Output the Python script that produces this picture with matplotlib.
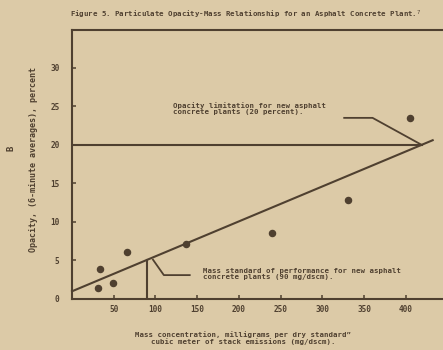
import matplotlib
matplotlib.use("Agg")
import matplotlib.pyplot as plt
import numpy as np

# Data
mass_conc = [33, 31, 49, 66, 136, 240, 330, 405]       # mg/dscm
opacity = [3.9, 1.4, 2.1, 6.1, 7.1, 8.6, 12.9, 23.5]    # percent
fit_x = [0, 432]
fit_y = [1.0, 20.6]
opacity_limit = 20
mass_standard = 90
x_ticks = [50, 100, 150, 200, 250, 300, 350, 400]
y_ticks = [0, 5, 10, 15, 20, 25, 30]

paper = "#dccaa7"
ink = "#4f4030"
font = dict(family="DejaVu Sans Mono", weight="bold", color=ink)

fig = plt.figure(figsize=(4.43, 3.5), dpi=100, facecolor=paper)
ax = fig.add_axes([72/443, 1-299/350, 1-72/443+0.005, (299-30)/350])
ax.set_facecolor(paper)
ax.set_xlim(0, 447)
ax.set_ylim(0, 34.9)
for s in ["left", "bottom", "top"]:
    ax.spines[s].set_color(ink)
    ax.spines[s].set_linewidth(1.5)
ax.spines["right"].set_visible(False)

ax.set_xticks(x_ticks)
ax.set_yticks(y_ticks)
ax.tick_params(direction="in", length=3, width=1.1, color=ink, labelsize=5.6, pad=4)
ax.tick_params(axis="y", pad=9)
for lab in ax.get_xticklabels() + ax.get_yticklabels():
    lab.set_family("DejaVu Sans Mono"); lab.set_weight("bold"); lab.set_color(ink)

# regression line
ax.plot(fit_x, fit_y, color=ink, lw=1.5, clip_on=False)
# intersection of fit with opacity limit
slope = (fit_y[1]-fit_y[0])/(fit_x[1]-fit_x[0])
x_int = (opacity_limit - fit_y[0]) / slope
ax.plot([0, x_int], [opacity_limit, opacity_limit], color=ink, lw=1.5)
# mass standard vertical
y_ms = fit_y[0] + slope*mass_standard
ax.plot([mass_standard, mass_standard], [0, y_ms], color=ink, lw=1.5)

ax.plot(mass_conc, opacity, "o", color=ink, ms=4.4, clip_on=False)

# annotations
ax.text(121, 24.7, "Opacity limitation for new asphalt\nconcrete plants (20 percent).",
        fontsize=5.3, va="center", ha="left", linespacing=1.0, **font)
ax.plot([326, 360, x_int], [23.5, 23.5, opacity_limit], color=ink, lw=1.3)
ax.text(157, 3.2, "Mass standard of performance for new asphalt\nconcrete plants (90 mg/dscm).",
        fontsize=5.3, va="center", ha="left", linespacing=1.0, **font)
ax.plot([97, 110, 141], [5.1, 3.1, 3.1], color=ink, lw=1.3)

fig.text(70/443, 1-15/350,
         "Figure 5. Particulate Opacity-Mass Relationship for an Asphalt Concrete Plant.$^7$",
         fontsize=5.3, va="center", ha="left", **font)
fig.text(243/443, 1-338/350,
         "Mass concentration, milligrams per dry standard\u201d\ncubic meter of stack emissions (mg/dscm).",
         fontsize=5.3, va="center", ha="center", linespacing=1.0, **font)
fig.text(34/443, 1-160/350, "Opacity, (6-minute averages), percent",
         fontsize=6.0, va="center", ha="center", rotation=90, **font)
fig.text(11/443, 1-148/350, "B", fontsize=6.5, va="center", ha="center", rotation=90, **font)

fig.savefig("out.png", dpi=100, facecolor=paper)
